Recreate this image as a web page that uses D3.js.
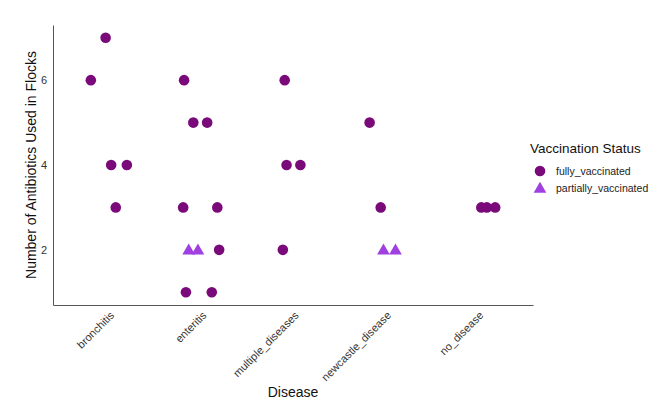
<!DOCTYPE html>
<html>
<head>
<meta charset="utf-8">
<script src="https://cdn.jsdelivr.net/npm/d3@7"></script>
<style>
  body { margin: 0; background: #fff; }
  text { font-family: "Liberation Sans", Arial, sans-serif; }
</style>
</head>
<body>
<svg id="chart"></svg>
<script>
// categories on the x axis
const diseases = ["bronchitis", "enteritis", "multiple_diseases", "newcastle_disease", "no_disease"];
const statuses = ["fully_vaccinated", "partially_vaccinated"];
const yTicks = [2, 4, 6];

// one entry per flock: disease, number of antibiotics, vaccination status, jitter (in category units)
const pointDisease = [
    "bronchitis", "bronchitis", "bronchitis", "bronchitis", "bronchitis",
    "enteritis", "enteritis", "enteritis", "enteritis", "enteritis",
    "enteritis", "enteritis", "enteritis", "enteritis", "enteritis",
    "multiple_diseases", "multiple_diseases", "multiple_diseases", "multiple_diseases",
    "newcastle_disease", "newcastle_disease", "newcastle_disease", "newcastle_disease",
    "no_disease", "no_disease", "no_disease"
];
const pointValue = [
    7, 6, 4, 4, 3,
    6, 5, 5, 3, 3, 2, 2, 2, 1, 1,
    6, 4, 4, 2,
    5, 3, 2, 2,
    3, 3, 3
];
const pointStatus = [
    "f", "f", "f", "f", "f",
    "f", "f", "f", "f", "f", "p", "p", "f", "f", "f",
    "f", "f", "f", "f",
    "f", "f", "p", "p",
    "f", "f", "f"
];
const pointJitter = [
    -0.03, -0.19, 0.03, 0.20, 0.08,
    -0.18, -0.08, 0.07, -0.19, 0.18, -0.13, -0.03, 0.20, -0.16, 0.12,
    -0.09, -0.07, 0.08, -0.11,
    -0.17, -0.05, -0.02, 0.11,
    0.04, 0.10, 0.19
];

const width = 667, height = 411;
const margin = { top: 25, right: 134, bottom: 106, left: 53 };
const plotW = width - margin.left - margin.right;
const plotH = height - margin.top - margin.bottom;

const colors = { f: "#7a0a7a", p: "#a040e0" };

const svg = d3.select("#chart").attr("width", width).attr("height", height);
const g = svg.append("g").attr("transform", `translate(${margin.left},${margin.top})`);

// discrete x scale like ggplot (0.6 expansion each side)
const x = d3.scaleLinear().domain([0.4, diseases.length + 0.6]).range([0, plotW]);
const y = d3.scaleLinear().domain([0.7, 7.3]).range([plotH, 0]);

const data = pointValue.map((v, i) => ({
    cat: diseases.indexOf(pointDisease[i]), value: v, status: pointStatus[i], jitter: pointJitter[i]
}));

// axes
const xAxis = g.append("g")
    .attr("transform", `translate(0,${plotH})`)
    .call(d3.axisBottom(x).tickValues(d3.range(1, diseases.length + 1))
        .tickFormat(d => diseases[d - 1]).tickSize(0).tickSizeOuter(0));
xAxis.select(".domain").attr("stroke", "#555");
xAxis.selectAll("text")
    .attr("fill", "#333")
    .attr("font-size", 11)
    .attr("text-anchor", "end")
    .attr("dy", null)
    .attr("y", 0)
    .attr("transform", "translate(6,11) rotate(-45)");

const yAxis = g.append("g")
    .call(d3.axisLeft(y).tickValues(yTicks).tickFormat(d3.format("d"))
        .tickSize(0).tickSizeOuter(0).tickPadding(6));
yAxis.select(".domain").attr("stroke", "#555");
yAxis.selectAll("text").attr("fill", "#333").attr("font-size", 11);

// points
const tri = d3.symbol().type(d3.symbolTriangle).size(70);
g.selectAll(".pt")
    .data(data)
    .join("g")
    .attr("class", "pt")
    .attr("transform", d => `translate(${x(d.cat + 1 + d.jitter)},${y(d.value)})`)
    .each(function (d) {
        const s = d3.select(this);
        if (d.status === "f") {
            s.append("circle").attr("r", 5.3).attr("fill", colors.f);
        } else {
            s.append("path").attr("d", tri).attr("transform", "translate(0,1)").attr("fill", colors.p);
        }
    });

// axis titles
svg.append("text")
    .attr("x", margin.left + plotW / 2)
    .attr("y", 397)
    .attr("text-anchor", "middle")
    .attr("font-size", 14)
    .attr("fill", "#111")
    .text("Disease");

svg.append("text")
    .attr("transform", `translate(36,${margin.top + plotH / 2}) rotate(-90)`)
    .attr("text-anchor", "middle")
    .attr("font-size", 14)
    .attr("fill", "#111")
    .text("Number of Antibiotics Used in Flocks");

// legend
const legend = svg.append("g").attr("transform", "translate(530,153)");
legend.append("text").attr("x", 0).attr("y", 0)
    .attr("font-size", 13.5).attr("fill", "#111").text("Vaccination Status");
statuses.forEach((s, i) => {
    const row = legend.append("g").attr("transform", `translate(10,${18 + i * 17})`);
    if (i === 0) row.append("circle").attr("r", 5.3).attr("fill", colors.f);
    else row.append("path").attr("d", tri).attr("transform", "translate(0,1)").attr("fill", colors.p);
    row.append("text").attr("x", 16).attr("y", 4)
        .attr("font-size", 10.5).attr("fill", "#222").text(s);
});
</script>
</body>
</html>
